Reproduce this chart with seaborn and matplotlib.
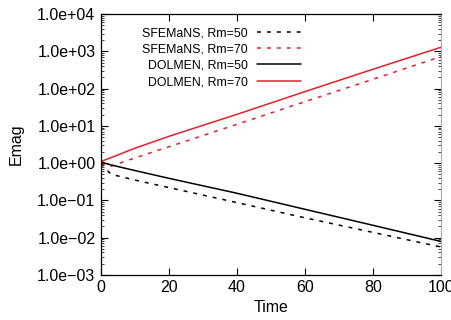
import numpy as np
import pandas as pd
import matplotlib
matplotlib.use("Agg")
import matplotlib.pyplot as plt
from matplotlib.ticker import LogLocator, NullFormatter
import seaborn as sns

# values
time = [0, 1, 3, 10, 20, 40, 60, 80, 100]
sfemans_rm50 = [1.00, 0.76, 0.50, 0.35, 0.22, 0.087, 0.034, 0.0138, 0.0056]
sfemans_rm70 = [1.00, 0.89, 0.83, 1.38, 2.75, 11.0, 44.7, 178, 724]
dolmen_rm50 = [1.10, 1.00, 0.89, 0.63, 0.39, 0.155, 0.0575, 0.0214, 0.0079]
dolmen_rm70 = [1.10, 1.20, 1.41, 2.51, 5.25, 20.4, 83.2, 331, 1290]

series_names = ["SFEMaNS, Rm=50", "SFEMaNS, Rm=70", "DOLMEN, Rm=50", "DOLMEN, Rm=70"]
ytick_vals = [1e-3, 1e-2, 1e-1, 1e0, 1e1, 1e2, 1e3, 1e4]
ytick_labels = ["1.0e\u221203", "1.0e\u221202", "1.0e\u221201", "1.0e+00",
                "1.0e+01", "1.0e+02", "1.0e+03", "1.0e+04"]
xtick_vals = [0, 20, 40, 60, 80, 100]

sns.set_style("ticks")
plt.rcParams["font.family"] = ["Liberation Sans", "DejaVu Sans"]
plt.rcParams["text.color"] = "black"
plt.rcParams["axes.labelcolor"] = "black"

df = pd.DataFrame({
    "Time": time * 4,
    "Emag": sfemans_rm50 + sfemans_rm70 + dolmen_rm50 + dolmen_rm70,
    "run": sum([[n] * len(time) for n in series_names], []),
})

red = "#e3202a"
colors = {series_names[0]: "black", series_names[1]: red,
          series_names[2]: "black", series_names[3]: red}
dashed = (0, (2.6, 3.9))

fig = plt.figure(figsize=(4.51, 3.2), dpi=100)
ax = fig.add_axes([0.224, 0.141, 0.754, 0.815])

for i, name in enumerate(series_names):
    sub = df[df["run"] == name]
    sns.lineplot(data=sub, x="Time", y="Emag", color=colors[name], lw=1.1,
                 linestyle=dashed if i < 2 else "-", label=name, ax=ax)

ax.set_yscale("log")
ax.set_xlim(0, 100)
ax.set_ylim(1e-3, 1e4)
ax.set_yticks(ytick_vals, ytick_labels)
ax.yaxis.set_minor_locator(LogLocator(base=10, subs=np.arange(2, 10)))
ax.yaxis.set_minor_formatter(NullFormatter())
ax.set_xticks(xtick_vals)
ax.tick_params(axis="both", which="major", direction="in", length=5, width=0.8,
               labelsize=11.5, top=True, right=True, pad=4, colors="black",
               labelcolor="black")
ax.tick_params(axis="y", which="minor", direction="in", length=2.5, width=0.6, right=True)
ax.tick_params(axis="x", which="both", top=True)

ax.set_xlabel("Time", fontsize=11.5, labelpad=3)
ax.set_ylabel("Emag", fontsize=11.5, labelpad=10)

for s in ["left", "bottom", "top"]:
    ax.spines[s].set_color("black")
    ax.spines[s].set_linewidth(0.9)
ax.spines["right"].set_color("#aaaaaa")
ax.spines["right"].set_linewidth(0.8)

leg = ax.legend(loc="upper right", bbox_to_anchor=(0.588, 0.95), frameon=False,
                markerfirst=False, fontsize=8.9, handlelength=3.55, handletextpad=0.75,
                labelspacing=0.35, borderpad=0, borderaxespad=0)
for t in leg.get_texts():
    t.set_color("black")

fig.savefig("out.png", dpi=100)
